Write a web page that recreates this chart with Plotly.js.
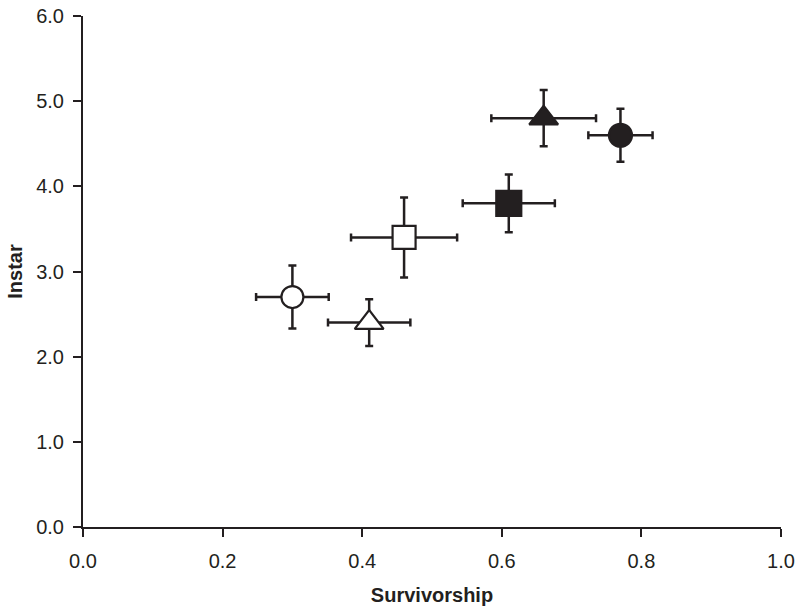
<!DOCTYPE html>
<html>
<head>
<meta charset="utf-8">
<script src="https://cdn.plot.ly/plotly-3.0.1.min.js"></script>
<style>html,body{margin:0;padding:0;background:#fff;}#chart{width:800px;height:614px;}</style>
</head>
<body>
<div id="chart"></div>
<script>
// Data
const groups      = ["A", "B", "C", "D", "E", "F"];
const survivorship = [0.30, 0.41, 0.46, 0.61, 0.66, 0.77];
const survErr      = [0.052, 0.059, 0.076, 0.066, 0.075, 0.046];
const instar       = [2.70, 2.40, 3.40, 3.80, 4.80, 4.60];
const instarErr    = [0.37, 0.275, 0.47, 0.34, 0.33, 0.31];
const symbols      = ["circle", "triangle-up", "square", "square", "triangle-up", "circle"];
const filled       = [false, false, false, true, true, true];
const sizes        = [22, 25, 23, 25, 25, 23];

const ink = "#231f20";
const traces = groups.map((g, i) => ({
  type: "scatter",
  mode: "markers",
  name: g,
  x: [survivorship[i]],
  y: [instar[i]],
  error_x: {type: "data", array: [survErr[i]], visible: true, color: ink, thickness: 2.5, width: 4},
  error_y: {type: "data", array: [instarErr[i]], visible: true, color: ink, thickness: 2.5, width: 4},
  marker: {
    symbol: symbols[i],
    size: sizes[i],
    color: filled[i] ? ink : "#ffffff",
    line: {color: ink, width: 2.2}
  },
  showlegend: false,
  cliponaxis: false
}));

const fontFam = "Liberation Sans, Arial, Helvetica, sans-serif";
const layout = {
  width: 800,
  height: 614,
  margin: {l: 83, r: 19, t: 16, b: 87},
  paper_bgcolor: "#ffffff",
  plot_bgcolor: "#ffffff",
  font: {family: fontFam, color: ink, size: 20},
  xaxis: {
    range: [0, 1],
    dtick: 0.2,
    tick0: 0,
    tickformat: ".1f",
    showgrid: false,
    zeroline: false,
    showline: true,
    linecolor: ink,
    linewidth: 2,
    ticks: "outside",
    ticklen: 8,
    tickwidth: 2,
    tickcolor: ink,
    ticklabelstandoff: 7,
    tickfont: {family: fontFam, size: 20, color: ink},
    title: {text: "<b>Survivorship</b>", font: {family: fontFam, size: 20, color: ink}, standoff: 17}
  },
  yaxis: {
    range: [0, 6],
    dtick: 1,
    tick0: 0,
    tickformat: ".1f",
    showgrid: false,
    zeroline: false,
    showline: true,
    linecolor: ink,
    linewidth: 2,
    ticks: "outside",
    ticklen: 8,
    tickwidth: 2,
    tickcolor: ink,
    ticklabelstandoff: 5,
    tickfont: {family: fontFam, size: 20, color: ink},
    title: {text: "<b>Instar</b>", font: {family: fontFam, size: 20, color: ink}, standoff: 8}
  }
};

Plotly.newPlot("chart", traces, layout, {displayModeBar: false, staticPlot: true});
</script>
</body>
</html>
